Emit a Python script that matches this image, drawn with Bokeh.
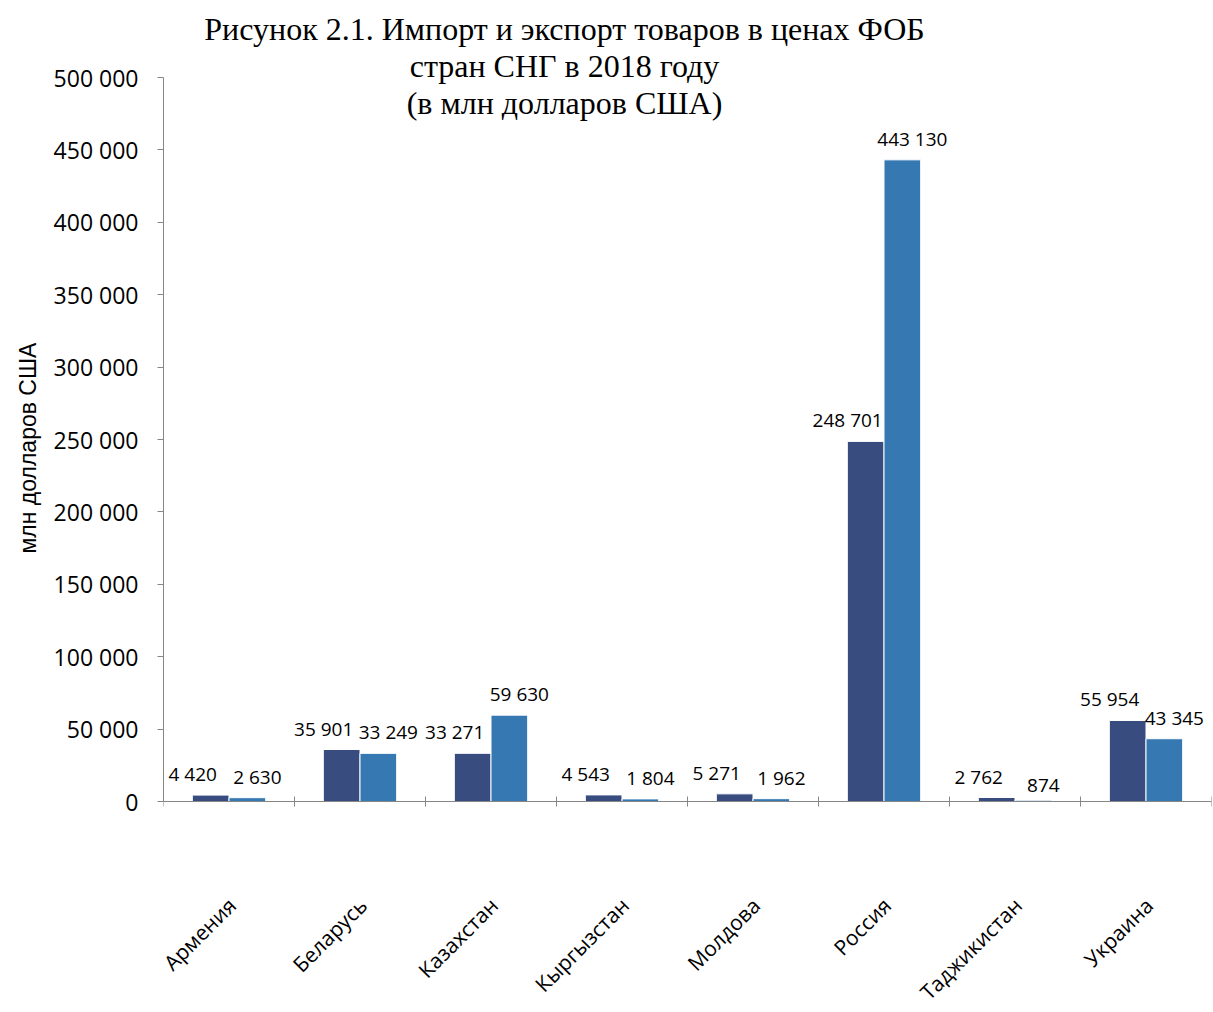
import math
from bokeh.plotting import figure
from bokeh.models import Range1d, LinearAxis, FixedTicker, ColumnDataSource, Span, Title
from bokeh.core.properties import value
from bokeh.embed import file_html
from bokeh.resources import INLINE

# ---- data ----
countries = ["Армения", "Беларусь", "Казахстан", "Кыргызстан",
             "Молдова", "Россия", "Таджикистан", "Украина"]
imports = [4420, 35901, 33271, 4543, 5271, 248701, 2762, 55954]
exports = [2630, 33249, 59630, 1804, 1962, 443130, 874, 43345]
y_ticks = [0, 50000, 100000, 150000, 200000, 250000, 300000, 350000, 400000, 450000, 500000]
title_lines = ["Рисунок 2.1. Импорт и экспорт товаров в ценах ФОБ",
               "стран СНГ в 2018 году",
               "(в млн долларов США)"]
y_label = "млн долларов США"

def fmt(v):
    return f"{v:,}".replace(",", " ")

DARK = "#384C80"
LIGHT = "#3578B2"
AXIS = "#868686"

n = len(countries)
centers = [i + 0.5 for i in range(n)]
bounds_ticks = [i for i in range(n + 1)]
bw = 0.28

src = ColumnDataSource(dict(
    x_imp=[c - bw / 2 for c in centers],
    x_exp=[c + bw / 2 for c in centers],
    imports=imports, exports=exports,
    imp_lbl=[fmt(v) for v in imports],
    exp_lbl=[fmt(v) for v in exports],
))

W, H = 1213, 1012
left, right = 163, 2
zero_px = 801                      # screen y of the value 0
px_axis = 724                      # pixels for 0..500 000
unit = 500000 / px_axis            # data units per pixel
px_cat = (W - left - right) / n    # pixels per category

p = figure(width=W, height=H, output_backend="svg", toolbar_location=None,
           x_range=Range1d(0, n),
           y_range=Range1d(-(H - zero_px) * unit, zero_px * unit),
           x_axis_location=None, y_axis_location=None,
           min_border_left=left, min_border_right=right, min_border_top=0,
           min_border_bottom=0)
p.outline_line_color = None
p.xgrid.visible = False
p.ygrid.visible = False

p.vbar(x="x_imp", top="imports", width=bw, bottom=0, source=src,
       fill_color=DARK, line_color="white", line_width=1)
p.vbar(x="x_exp", top="exports", width=bw, bottom=0, source=src,
       fill_color=LIGHT, line_color="white", line_width=1)

p.text(x="x_imp", y="imports", text="imp_lbl", source=src, x_offset=-18, y_offset=-8,
       text_align="center", text_baseline="bottom",
       text_font=value("Open Sans"), text_font_size="19px", text_color="black")
p.text(x="x_exp", y="exports", text="exp_lbl", source=src, x_offset=10, y_offset=-8,
       text_align="center", text_baseline="bottom",
       text_font=value("Open Sans"), text_font_size="19px", text_color="black")

# category axis: zero line, boundary ticks, rotated labels
p.add_layout(Span(location=0, dimension="width", line_color=AXIS, line_width=1))
p.scatter(x=bounds_ticks, y=[0] * len(bounds_ticks), marker="dash", size=10,
          angle=math.pi / 2, line_color=AXIS, line_width=1)
p.text(x=centers, y=[0] * n, text=countries, angle=math.pi / 4,
       x_offset=3, y_offset=100, text_align="right", text_baseline="middle",
       text_font=value("Open Sans"), text_font_size="21px", text_color="black")

# chart title, inside the frame area above the axis top
title_y = [(zero_px - sy) * unit for sy in (28, 65, 102)]
title_x = (564 - left) / px_cat
p.text(x=[title_x] * 3, y=title_y, text=title_lines,
       text_align="center", text_baseline="middle",
       text_font=value("Liberation Serif"), text_font_size="32px", text_color="black")

yaxis = LinearAxis(ticker=FixedTicker(ticks=y_ticks), bounds=(0, 500000),
                   major_label_overrides={t: fmt(t) for t in y_ticks},
                   major_tick_out=6, major_tick_in=0, minor_tick_out=0, minor_tick_in=0,
                   axis_line_color=AXIS, major_tick_line_color=AXIS,
                   major_label_standoff=19,
                   major_label_text_font="Open Sans", major_label_text_font_size="23px",
                   major_label_text_color="black")
p.add_layout(yaxis, "left")

p.add_layout(Title(text=y_label, align="left", offset=H - 553, standoff=19,
                   text_font="Liberation Sans", text_font_size="23px",
                   text_font_style="normal", text_color="black"), "left")

open("out.html", "w").write(file_html(p, INLINE))
